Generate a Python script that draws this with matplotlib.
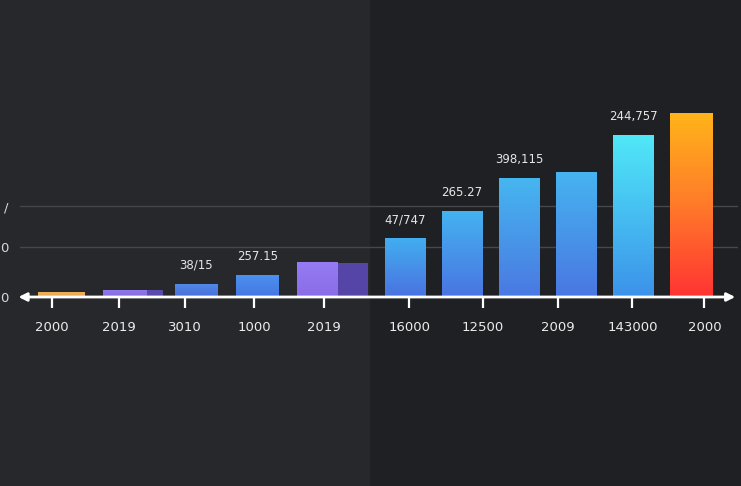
import numpy as np
import matplotlib
matplotlib.use("Agg")
import matplotlib.pyplot as plt
from matplotlib.patches import Rectangle
from matplotlib.colors import LinearSegmentedColormap

# data
values = [10, 14, 26, 44, 70, 118, 172, 238, 250, 324, 368]
value_labels = ["", "", "38/15", "257.15", "", "47/747", "265.27", "398,115", "", "244,757", ""]
tick_labels = ["2000", "2019", "3010", "1000", "2019", "16000", "12500", "2009", "143000", "2000"]
ytick_vals = [0, 100, 182]
ytick_labels = ["0", "0", "/"]  # only the last glyphs show at the left edge

# layout (slot units)
bar_pos = [0, 1.07, 2.25, 3.27, 4.28, 5.73, 6.68, 7.64, 8.58, 9.53, 10.5]
bar_w = [0.77, 0.73, 0.7, 0.7, 0.68, 0.67, 0.67, 0.67, 0.67, 0.67, 0.7]
side_w = [0, 0.27, 0, 0, 0.5, 0, 0, 0, 0, 0, 0]
tick_pos = [-0.15, 0.97, 2.07, 3.22, 4.38, 5.8, 7.03, 8.28, 9.52, 10.72]

# gradient (top, bottom) for each bar
grads = [
    ("#eeb25a", "#e6a54c"),
    ("#8f78e8", "#876ce0"),
    ("#4f88e8", "#4a6fd8"),
    ("#4b90f0", "#4676e0"),
    ("#957bf4", "#8a6ce6"),
    ("#42aef0", "#4a72e0"),
    ("#44b2f0", "#4a74e2"),
    ("#46b6f0", "#4a78e2"),
    ("#46b4f0", "#4a76e2"),
    ("#50e8f8", "#3c92ea"),
    ("#ffb41a", "#ff3333"),
]
side_color = ["", "#5b4aae", "", "", "#5445a6", "", "", "", "", "", ""]

W, H = 741, 486
fig = plt.figure(figsize=(W / 100, H / 100), dpi=100)
fig.patch.set_facecolor("#26282b")
fig.patches.append(Rectangle((370 / W, 0), 1 - 370 / W, 1, transform=fig.transFigure,
                             facecolor="#1f2023", edgecolor="none", zorder=-10))

ax = fig.add_axes([20 / W, (H - 297) / H, 718 / W, 237 / H])
ax.set_facecolor("none")
ax.set_zorder(1)
ax.set_xlim(-0.683, 11.28)
ax.set_ylim(0, 474)

# gridlines
for yv in ytick_vals[1:]:
    ax.axhline(yv, color="#44474b", lw=1, zorder=1)

# side faces (pseudo 3d)
for i in range(len(values)):
    if side_w[i] > 0:
        ax.bar(bar_pos[i] + bar_w[i] / 2, values[i] * 0.97, width=side_w[i], align="edge",
               color=side_color[i], zorder=2)

bars = ax.bar(bar_pos, values, width=bar_w, color=[g[0] for g in grads], zorder=2)

# gradients inside bars
grad = np.linspace(0, 1, 256).reshape(-1, 1)
for b, (top, bot) in zip(bars, grads):
    if top == "#ffb41a":
        cmap = LinearSegmentedColormap.from_list("g", [bot, "#ff7a2a", top])
    else:
        cmap = LinearSegmentedColormap.from_list("g", [bot, top])
    x0, h, w = b.get_x(), b.get_height(), b.get_width()
    ax.imshow(grad, extent=[x0, x0 + w, 0, h], origin="lower", cmap=cmap,
              aspect="auto", zorder=3)

# value labels
for b, lab in zip(bars, value_labels):
    if lab:
        ax.text(b.get_x() + b.get_width() / 2, b.get_height() + 24, lab,
                ha="center", va="bottom", color="#e6e6e6", fontsize=8.5, zorder=4)

ax.set_xlim(-0.683, 11.28)
ax.set_ylim(0, 474)

# x axis with arrows on both ends
ax.annotate("", xy=(1.0, 0), xytext=(-0.006, 0), xycoords="axes fraction",
            arrowprops=dict(arrowstyle="<|-|>", color="white", lw=2, mutation_scale=12),
            annotation_clip=False, zorder=5)

ax.set_xticks(tick_pos)
ax.set_xticklabels(tick_labels)
ax.tick_params(axis="x", direction="out", length=8, width=1.6, colors="white",
               labelcolor="#ececec", labelsize=9.5, pad=9)
ax.set_yticks(ytick_vals)
ax.set_yticklabels(ytick_labels)
ax.tick_params(axis="y", length=0, labelcolor="#d8d8d8", labelsize=9.5, pad=8)
for s in ax.spines.values():
    s.set_visible(False)

fig.savefig("out.png", dpi=100, facecolor=fig.get_facecolor())
